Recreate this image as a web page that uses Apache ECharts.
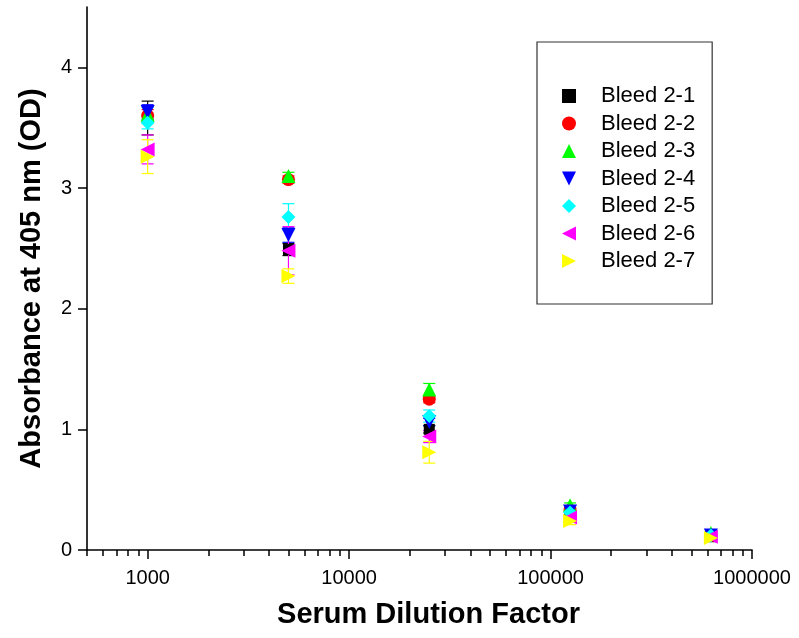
<!DOCTYPE html>
<html>
<head>
<meta charset="utf-8">
<script src="https://cdn.jsdelivr.net/npm/echarts@6/dist/echarts.min.js"></script>
<style>
  html, body { margin: 0; padding: 0; background: #fff; }
  #chart { width: 799px; height: 638px; }
</style>
</head>
<body>
<div id="chart"></div>
<script>
// Serum dilution factors (5-fold series)
const dilutions = [1000, 5000, 25000, 125000, 625000];

// Mean absorbance at 405 nm per bleed
const bleed21 = [3.58, 2.49, 1.00, 0.28, 0.11];
const bleed22 = [3.60, 3.07, 1.25, 0.33, 0.12];
const bleed23 = [3.61, 3.10, 1.33, 0.37, 0.14];
const bleed24 = [3.63, 2.61, 1.06, 0.32, 0.12];
const bleed25 = [3.54, 2.76, 1.11, 0.31, 0.12];
const bleed26 = [3.32, 2.48, 0.94, 0.27, 0.11];
const bleed27 = [3.26, 2.27, 0.81, 0.24, 0.10];

// Standard deviations
const bleed21Err = [0.14, 0.05, 0.03, 0.03, 0.02];
const bleed22Err = [0.05, 0.03, 0.03, 0.02, 0.02];
const bleed23Err = [0.06, 0.03, 0.05, 0.02, 0.02];
const bleed24Err = [0.06, 0.06, 0.03, 0.02, 0.02];
const bleed25Err = [0.05, 0.11, 0.05, 0.02, 0.02];
const bleed26Err = [0.12, 0.20, 0.05, 0.03, 0.02];
const bleed27Err = [0.14, 0.06, 0.09, 0.03, 0.02];

const bleedNames = ['Bleed 2-1', 'Bleed 2-2', 'Bleed 2-3', 'Bleed 2-4', 'Bleed 2-5', 'Bleed 2-6', 'Bleed 2-7'];

// Axis tick values
const xMajorTicks = [1000, 10000, 100000, 1000000];
const xMinorTicks = [500, 600, 700, 800, 900,
  2000, 3000, 4000, 5000, 6000, 7000, 8000, 9000,
  20000, 30000, 40000, 50000, 60000, 70000, 80000, 90000,
  200000, 300000, 400000, 500000, 600000, 700000, 800000, 900000];
const yTicks = [0, 1, 2, 3, 4];

const means = [bleed21, bleed22, bleed23, bleed24, bleed25, bleed26, bleed27];
const errs = [bleed21Err, bleed22Err, bleed23Err, bleed24Err, bleed25Err, bleed26Err, bleed27Err];
const colors = ['#000000', '#ff0000', '#00ff00', '#0000ff', '#00ffff', '#ff00ff', '#ffff00'];
const symbols = [
  'rect',
  'circle',
  'triangle',
  'path://M0,0L10,0L5,10Z',
  'diamond',
  'path://M10,0L10,10L0,5Z',
  'path://M0,0L10,5L0,10Z'
];
const symbolSizes = [11, 13, 14, 14, 14, 14, 14];

const FONT = 'Liberation Sans, Arial, sans-serif';

function errorBarItem(color) {
  return function (params, api) {
    const x = api.value(0);
    const lo = api.coord([x, api.value(1)]);
    const hi = api.coord([x, api.value(2)]);
    const half = 6;
    const style = { stroke: color, lineWidth: 1.2 };
    return {
      type: 'group',
      children: [
        { type: 'line', shape: { x1: lo[0], y1: lo[1], x2: hi[0], y2: hi[1] }, style },
        { type: 'line', shape: { x1: lo[0] - half, y1: lo[1], x2: lo[0] + half, y2: lo[1] }, style },
        { type: 'line', shape: { x1: hi[0] - half, y1: hi[1], x2: hi[0] + half, y2: hi[1] }, style }
      ]
    };
  };
}

const series = [];
means.forEach((vals, i) => {
  series.push({
    type: 'scatter',
    name: bleedNames[i],
    symbol: symbols[i],
    symbolSize: symbolSizes[i],
    itemStyle: { color: colors[i], opacity: 1 },
    data: dilutions.map((d, k) => [d, vals[k]]),
    z: 2
  });
  series.push({
    type: 'custom',
    renderItem: errorBarItem(colors[i]),
    data: dilutions.map((d, k) => [d, vals[k] - errs[i][k], vals[k] + errs[i][k]]),
    encode: { x: 0, y: [1, 2] },
    silent: true,
    z: 2
  });
});

const chart = echarts.init(document.getElementById('chart'), null, { renderer: 'canvas' });
chart.setOption({
  backgroundColor: '#ffffff',
  animation: false,
  grid: { left: 87, right: 47, top: 7, bottom: 88, containLabel: false },
  legend: {
    data: bleedNames,
    orient: 'vertical',
    left: 537,
    top: 42,
    padding: [43, 17, 32, 25],
    itemWidth: 14,
    itemHeight: 14,
    itemGap: 5.5,
    borderColor: '#333',
    borderWidth: 1.2,
    backgroundColor: '#fff',
    textStyle: { fontFamily: FONT, fontSize: 22, color: '#000', padding: [0, 0, 0, 20] }
  },
  xAxis: [
    {
      type: 'log',
      logBase: 10,
      min: 500,
      max: 1000000,
      position: 'bottom',
      axisLine: { show: true, onZero: false, lineStyle: { color: '#000', width: 1.6 } },
      axisTick: { show: true, inside: false, length: 9, customValues: xMajorTicks, lineStyle: { color: '#000', width: 1.5 } },
      axisLabel: {
        customValues: xMajorTicks,
        formatter: v => String(Math.round(v)),
        fontFamily: FONT, fontSize: 20, color: '#000', margin: 18
      },
      splitLine: { show: false },
      minorTick: { show: false },
      name: 'Serum Dilution Factor',
      nameLocation: 'middle',
      nameGap: 50,
      nameTextStyle: { fontFamily: FONT, fontSize: 29, fontWeight: 'bold', color: '#000', padding: [0, 0, 0, 18] }
    },
    {
      type: 'log',
      logBase: 10,
      min: 500,
      max: 1000000,
      position: 'bottom',
      offset: 0,
      axisLine: { show: false },
      axisTick: { show: true, inside: false, length: 6, customValues: xMinorTicks, lineStyle: { color: '#000', width: 1.5 } },
      axisLabel: { show: false },
      splitLine: { show: false }
    }
  ],
  yAxis: {
    type: 'value',
    min: 0,
    max: 4.5,
    interval: 1,
    axisLine: { show: true, onZero: false, lineStyle: { color: '#000', width: 1.6 } },
    axisTick: { show: true, inside: false, length: 9, customValues: yTicks, lineStyle: { color: '#000', width: 1.5 } },
    axisLabel: { customValues: yTicks, fontFamily: FONT, fontSize: 20, color: '#000', margin: 15 },
    splitLine: { show: false },
    name: 'Absorbance at 405 nm (OD)',
    nameLocation: 'middle',
    nameGap: 41,
    nameTextStyle: { fontFamily: FONT, fontSize: 29, fontWeight: 'bold', color: '#000' }
  },
  series: series
});
</script>
</body>
</html>
